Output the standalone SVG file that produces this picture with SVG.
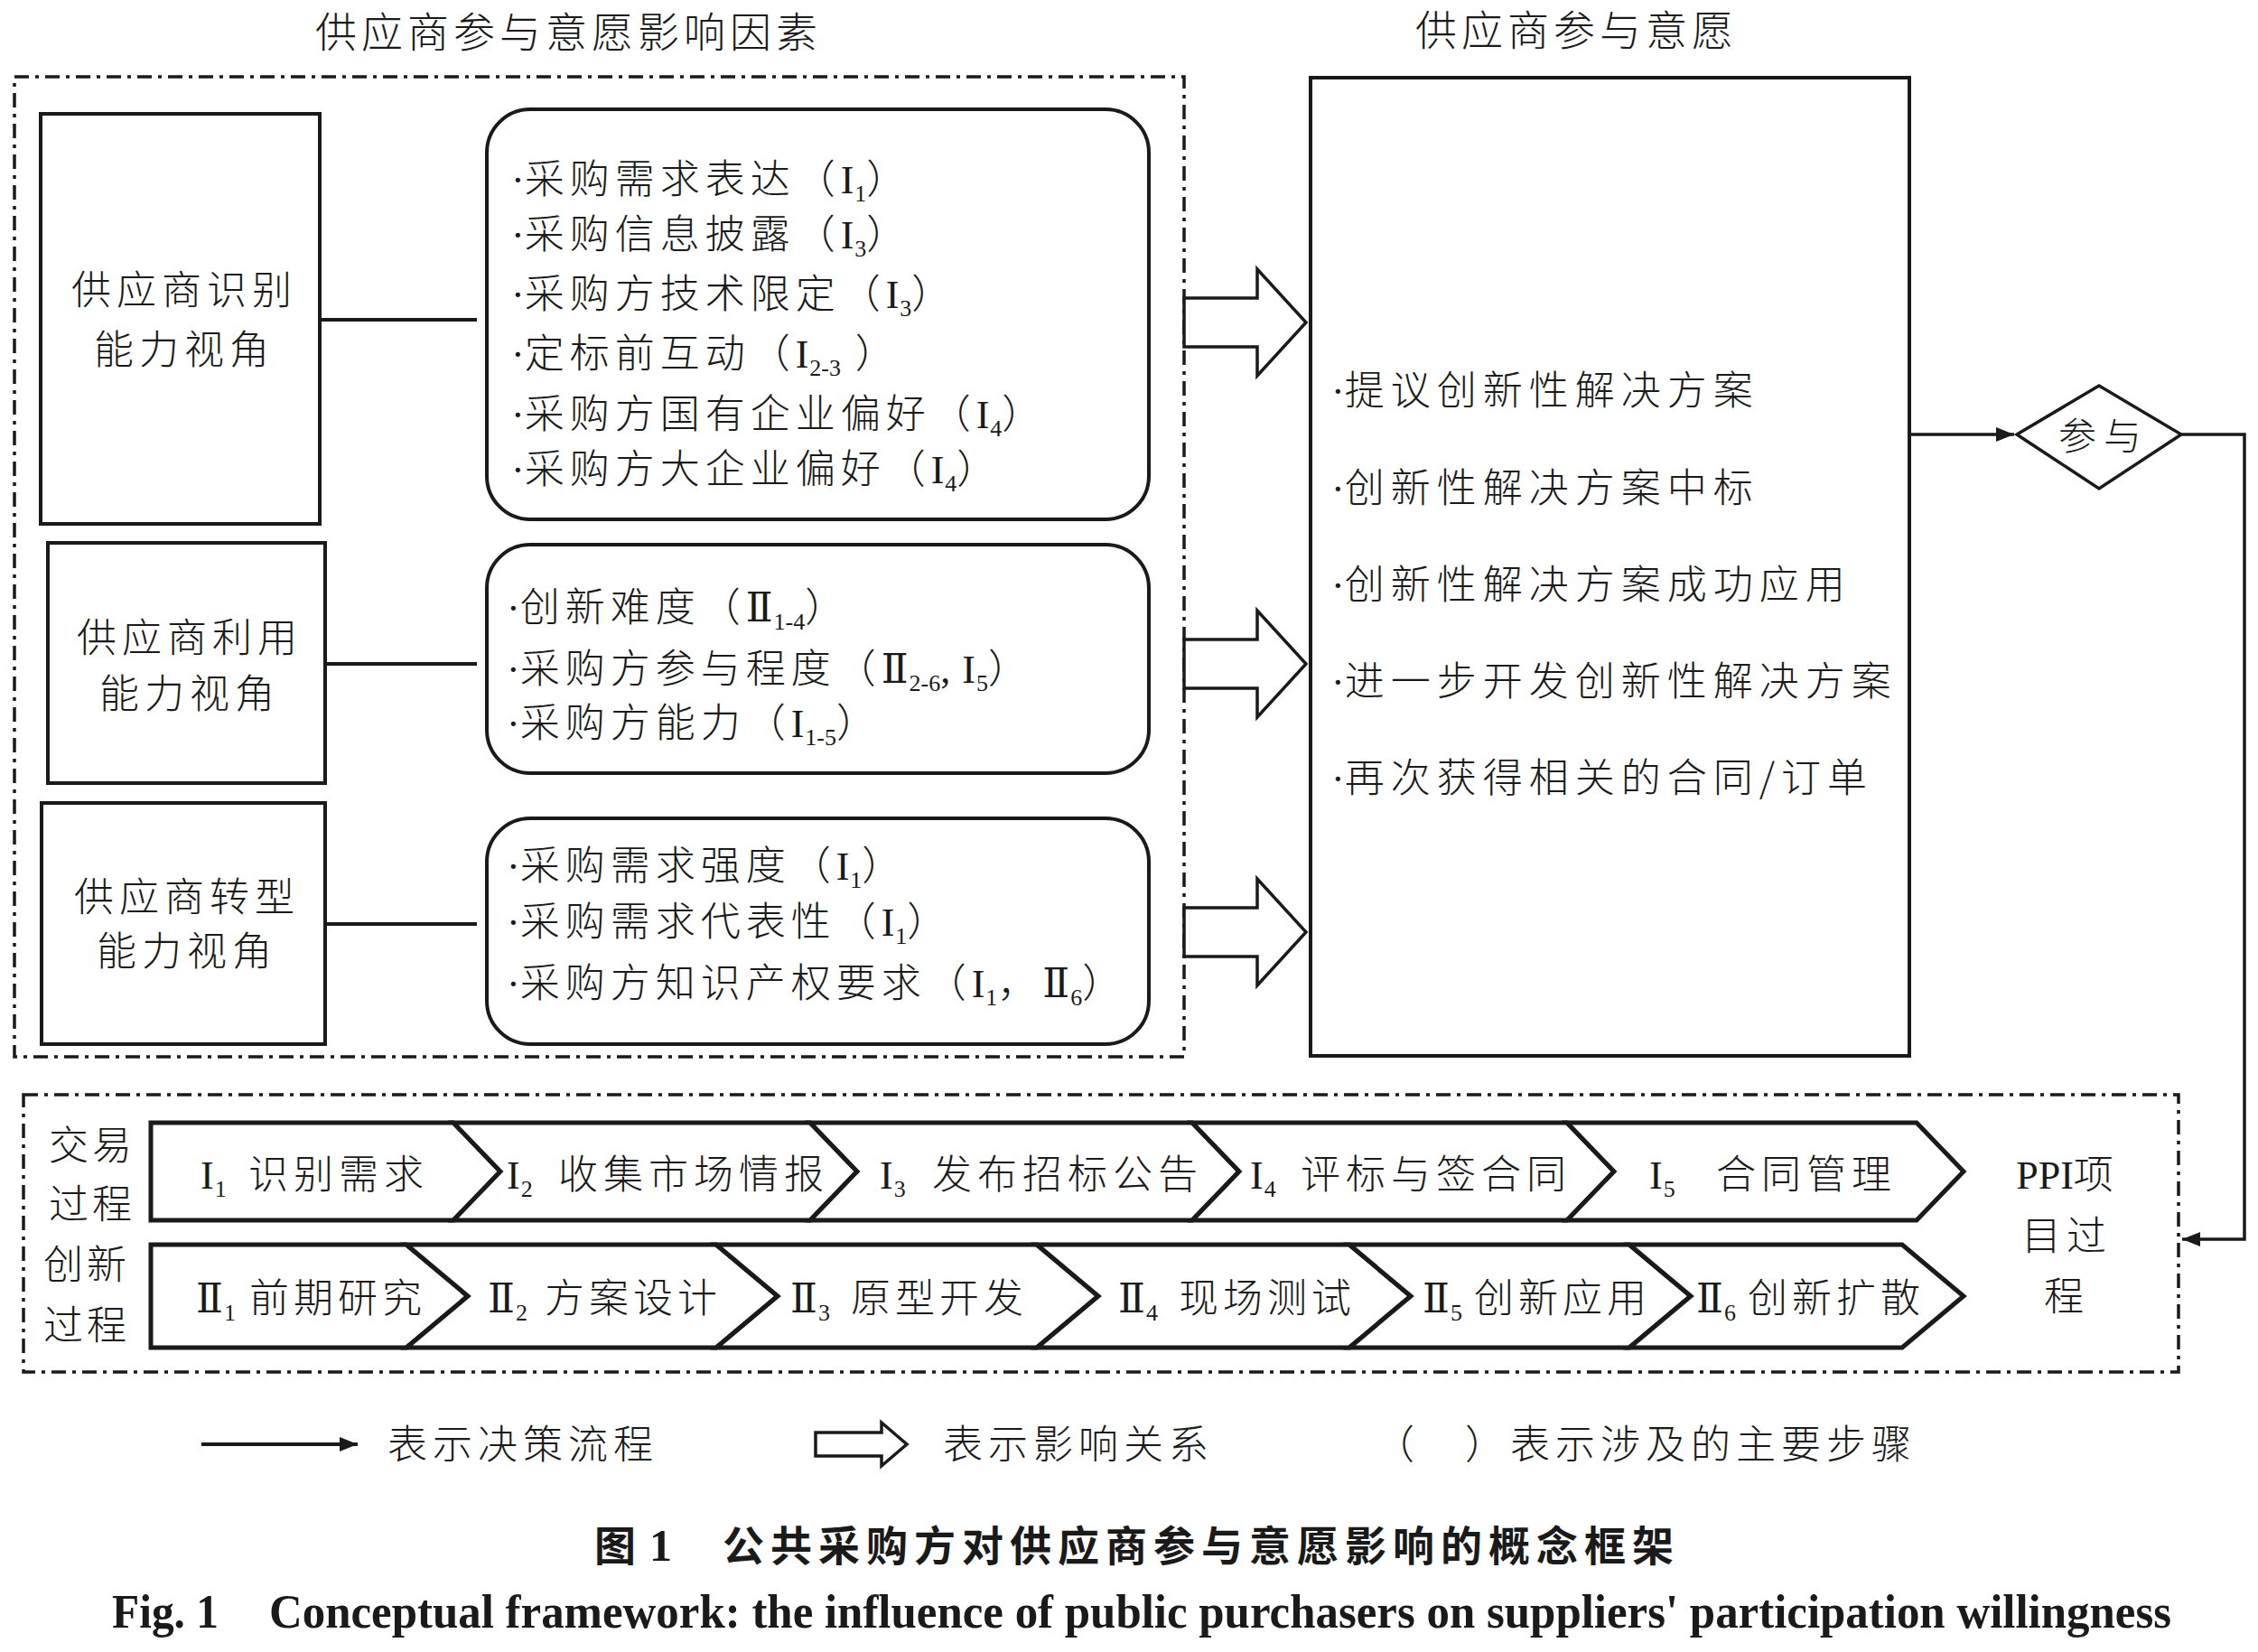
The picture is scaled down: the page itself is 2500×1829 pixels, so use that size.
<svg xmlns="http://www.w3.org/2000/svg" width="2500" height="1829" viewBox="0 0 2500 1829">
<defs>
<style>
.bg{fill:#fff}
.box{fill:#fff;stroke:#1a1a1a;stroke-width:4}
.rbox{fill:#fff;stroke:#1a1a1a;stroke-width:4}
.frame{fill:none;stroke:#1a1a1a;stroke-width:3.5;stroke-dasharray:16 7 4 7}
.hollow{fill:#fff;stroke:#1a1a1a;stroke-width:3.5;stroke-linejoin:miter}
.chev{fill:#fff;stroke:#1a1a1a;stroke-width:5;stroke-linejoin:miter}
.line{fill:none;stroke:#1a1a1a;stroke-width:4}
.t{font-family:"Noto Sans CJK SC",sans-serif;font-size:44px;letter-spacing:6px;fill:#1a1a1a;font-weight:300}
.w{letter-spacing:7px}
.r{font-family:"Liberation Serif","DejaVu Serif","Noto Sans CJK SC",serif;letter-spacing:1px}
.s{font-family:"Liberation Serif",serif;font-size:26px;letter-spacing:0px}
.d{font-family:"Liberation Serif",serif;letter-spacing:0px}
.cap{font-family:"Noto Sans CJK SC",sans-serif;font-size:46px;font-weight:700;letter-spacing:7px;fill:#1a1a1a}
.en{font-family:"Liberation Serif",serif;font-size:52px;font-weight:700;fill:#1a1a1a}
</style>
<marker id="ah" viewBox="0 0 20 16" refX="20" refY="8" markerWidth="20" markerHeight="16" markerUnits="userSpaceOnUse" orient="auto">
<path d="M0,0 L20,8 L0,16 Z" fill="#1a1a1a"/>
</marker>
</defs>
<rect class="bg" x="0" y="0" width="2500" height="1829"/>

<!-- titles -->
<text id="title-left" class="t" x="349" y="52" style="letter-spacing:5px;font-size:46px">供应商参与意愿影响因素</text>
<text id="title-right" class="t" x="1567" y="50" style="letter-spacing:5px;font-size:46px">供应商参与意愿</text>

<!-- frames -->
<g id="frames">
<rect class="frame" x="16" y="85" width="1295" height="1085"/>
<rect class="frame" x="26" y="1212" width="2386" height="307"/>
</g>

<!-- perspective boxes -->
<g id="node-identify">
<rect class="box" x="45" y="126" width="309" height="454"/>
<text class="t" x="204" y="337" text-anchor="middle">供应商识别</text>
<text class="t" x="204" y="403" text-anchor="middle">能力视角</text>
</g>
<g id="node-use">
<rect class="box" x="53" y="601" width="307" height="266"/>
<text class="t" x="210" y="722" text-anchor="middle">供应商利用</text>
<text class="t" x="210" y="784" text-anchor="middle">能力视角</text>
</g>
<g id="node-transform">
<rect class="box" x="46" y="889" width="314" height="267"/>
<text class="t" x="207" y="1009" text-anchor="middle">供应商转型</text>
<text class="t" x="207" y="1069" text-anchor="middle">能力视角</text>
</g>

<!-- factor boxes -->
<g id="node-factors1">
<rect class="rbox" x="539" y="121" width="733" height="454" rx="48" ry="48"/>
<text class="t" x="566" y="214"><tspan class="d">·</tspan>采购需求表达（<tspan class="r">I</tspan><tspan class="s" dy="9">1</tspan><tspan dy="-9">）</tspan></text>
<text class="t" x="566" y="275"><tspan class="d">·</tspan>采购信息披露（<tspan class="r">I</tspan><tspan class="s" dy="9">3</tspan><tspan dy="-9">）</tspan></text>
<text class="t" x="566" y="341"><tspan class="d">·</tspan>采购方技术限定（<tspan class="r">I</tspan><tspan class="s" dy="9">3</tspan><tspan dy="-9">）</tspan></text>
<text class="t" x="566" y="407"><tspan class="d">·</tspan>定标前互动（<tspan class="r">I</tspan><tspan class="s" dy="9">2-3</tspan><tspan dy="-9"> ）</tspan></text>
<text class="t" x="566" y="474"><tspan class="d">·</tspan>采购方国有企业偏好（<tspan class="r">I</tspan><tspan class="s" dy="9">4</tspan><tspan dy="-9">）</tspan></text>
<text class="t" x="566" y="535"><tspan class="d">·</tspan>采购方大企业偏好（<tspan class="r">I</tspan><tspan class="s" dy="9">4</tspan><tspan dy="-9">）</tspan></text>
</g>
<g id="node-factors2">
<rect class="rbox" x="539" y="603" width="733" height="253" rx="48" ry="48"/>
<text class="t" x="561" y="688"><tspan class="d">·</tspan>创新难度（<tspan class="r">Ⅱ</tspan><tspan class="s" dy="9">1-4</tspan><tspan dy="-9">）</tspan></text>
<text class="t" x="561" y="756"><tspan class="d">·</tspan>采购方参与程度（<tspan class="r">Ⅱ</tspan><tspan class="s" dy="9">2-6</tspan><tspan class="r" dy="-9">, I</tspan><tspan class="s" dy="9">5</tspan><tspan dy="-9">）</tspan></text>
<text class="t" x="561" y="816"><tspan class="d">·</tspan>采购方能力（<tspan class="r">I</tspan><tspan class="s" dy="9">1-5</tspan><tspan dy="-9">）</tspan></text>
</g>
<g id="node-factors3">
<rect class="rbox" x="539" y="906" width="733" height="250" rx="48" ry="48"/>
<text class="t" x="561" y="974"><tspan class="d">·</tspan>采购需求强度（<tspan class="r">I</tspan><tspan class="s" dy="9">1</tspan><tspan dy="-9">）</tspan></text>
<text class="t" x="561" y="1036"><tspan class="d">·</tspan>采购需求代表性（<tspan class="r">I</tspan><tspan class="s" dy="9">1</tspan><tspan dy="-9">）</tspan></text>
<text class="t" x="561" y="1104"><tspan class="d">·</tspan>采购方知识产权要求（<tspan class="r">I</tspan><tspan class="s" dy="9">1</tspan><tspan dy="-9">，</tspan><tspan class="r">Ⅱ</tspan><tspan class="s" dy="9">6</tspan><tspan dy="-9">）</tspan></text>
</g>

<!-- willingness box -->
<g id="node-willingness">
<rect class="box" x="1451" y="86" width="663" height="1083"/>
<text class="t w" x="1474" y="448"><tspan class="d">·</tspan>提议创新性解决方案</text>
<text class="t w" x="1474" y="556"><tspan class="d">·</tspan>创新性解决方案中标</text>
<text class="t w" x="1474" y="663"><tspan class="d">·</tspan>创新性解决方案成功应用</text>
<text class="t w" x="1474" y="770"><tspan class="d">·</tspan>进一步开发创新性解决方案</text>
<text class="t w" x="1474" y="877"><tspan class="d">·</tspan>再次获得相关的合同/订单</text>
</g>

<!-- decision diamond -->
<g id="node-participate">
<polygon class="box" points="2233,481 2324,427 2415,481 2324,541" style="stroke-width:3.5"/>
<text class="t" x="2329" y="498" text-anchor="middle" style="letter-spacing:8px;font-size:42px">参与</text>
</g>

<!-- process chevrons -->
<g id="node-transaction">
<text class="t" x="54" y="1284" style="letter-spacing:4px">交易</text>
<text class="t" x="54" y="1349" style="letter-spacing:4px">过程</text>
<polygon class="chev" points="167,1243 502,1243 554,1297 502,1351 167,1351"/>
<polygon class="chev" points="502,1243 897,1243 949,1297 897,1351 502,1351 554,1297"/>
<polygon class="chev" points="897,1243 1320,1243 1372,1297 1320,1351 897,1351 949,1297"/>
<polygon class="chev" points="1320,1243 1735,1243 1787,1297 1735,1351 1320,1351 1372,1297"/>
<polygon class="chev" points="1735,1243 2122,1243 2174,1297 2122,1351 1735,1351 1787,1297"/>
<text class="t" y="1316"><tspan class="r" x="222">I</tspan><tspan class="s" dy="9">1</tspan><tspan x="275" dy="-9">识别需求</tspan></text>
<text class="t" y="1316"><tspan class="r" x="561">I</tspan><tspan class="s" dy="9">2</tspan><tspan x="618" dy="-9">收集市场情报</tspan></text>
<text class="t" y="1316"><tspan class="r" x="974">I</tspan><tspan class="s" dy="9">3</tspan><tspan x="1032" dy="-9">发布招标公告</tspan></text>
<text class="t" y="1316"><tspan class="r" x="1384">I</tspan><tspan class="s" dy="9">4</tspan><tspan x="1440" dy="-9">评标与签合同</tspan></text>
<text class="t" y="1316"><tspan class="r" x="1826">I</tspan><tspan class="s" dy="9">5</tspan><tspan x="1900" dy="-9">合同管理</tspan></text>
</g>
<g id="node-innovation">
<text class="t" x="48" y="1416" style="letter-spacing:4px">创新</text>
<text class="t" x="48" y="1483" style="letter-spacing:4px">过程</text>
<polygon class="chev" points="167,1378 450,1378 518,1435 450,1492 167,1492"/>
<polygon class="chev" points="450,1378 793,1378 861,1435 793,1492 450,1492 518,1435"/>
<polygon class="chev" points="793,1378 1148,1378 1216,1435 1148,1492 793,1492 861,1435"/>
<polygon class="chev" points="1148,1378 1494,1378 1562,1435 1494,1492 1148,1492 1216,1435"/>
<polygon class="chev" points="1494,1378 1804,1378 1872,1435 1804,1492 1494,1492 1562,1435"/>
<polygon class="chev" points="1804,1378 2106,1378 2174,1435 2106,1492 1804,1492 1872,1435"/>
<text class="t" y="1453"><tspan class="r" x="217">Ⅱ</tspan><tspan class="s" dy="9">1</tspan><tspan x="276" dy="-9" style="letter-spacing:5px">前期研究</tspan></text>
<text class="t" y="1453"><tspan class="r" x="540">Ⅱ</tspan><tspan class="s" dy="9">2</tspan><tspan x="603" dy="-9" style="letter-spacing:5px">方案设计</tspan></text>
<text class="t" y="1453"><tspan class="r" x="875">Ⅱ</tspan><tspan class="s" dy="9">3</tspan><tspan x="942" dy="-9" style="letter-spacing:5px">原型开发</tspan></text>
<text class="t" y="1453"><tspan class="r" x="1238">Ⅱ</tspan><tspan class="s" dy="9">4</tspan><tspan x="1305" dy="-9" style="letter-spacing:5px">现场测试</tspan></text>
<text class="t" y="1453"><tspan class="r" x="1575">Ⅱ</tspan><tspan class="s" dy="9">5</tspan><tspan x="1632" dy="-9" style="letter-spacing:5px">创新应用</tspan></text>
<text class="t" y="1453"><tspan class="r" x="1878">Ⅱ</tspan><tspan class="s" dy="9">6</tspan><tspan x="1935" dy="-9" style="letter-spacing:5px">创新扩散</tspan></text>
</g>
<g id="node-ppi">
<text class="t" x="2286" y="1316" text-anchor="middle" style="letter-spacing:0px"><tspan class="r" style="letter-spacing:0px">PPI</tspan>项</text>
<text class="t" x="2288" y="1384" text-anchor="middle">目过</text>
<text class="t" x="2288" y="1451" text-anchor="middle">程</text>
</g>

<!-- connectors -->
<g id="connectors">
<line class="line" x1="354" y1="354" x2="528" y2="354"/>
<line class="line" x1="360" y1="735" x2="528" y2="735"/>
<line class="line" x1="360" y1="1023" x2="528" y2="1023"/>
<polygon class="hollow" points="1311,330 1392,330 1392,298 1446,357 1392,416 1392,384 1311,384"/>
<polygon class="hollow" points="1311,708 1392,708 1392,676 1446,735 1392,794 1392,762 1311,762"/>
<polygon class="hollow" points="1311,1005 1392,1005 1392,973 1446,1032 1392,1091 1392,1059 1311,1059"/>
<line class="line" x1="2114" y1="481" x2="2230" y2="481" style="stroke-width:3.5" marker-end="url(#ah)"/>
<polyline class="line" points="2415,481 2485,481 2485,1372 2416,1372" style="stroke-width:3.5" marker-end="url(#ah)"/>
</g>

<!-- legend -->
<g id="legend">
<line class="line" x1="223" y1="1599" x2="396" y2="1599" style="stroke-width:4" marker-end="url(#ah)"/>
<text class="t" x="429" y="1615">表示决策流程</text>
<polygon class="hollow" points="903,1586 976,1586 976,1575 1004,1599 976,1623 976,1612 903,1612"/>
<text class="t" x="1044" y="1615">表示影响关系</text>
<text class="t" x="1522" y="1615" style="letter-spacing:6px">（　）表示涉及的主要步骤</text>
</g>

<!-- caption -->
<g id="caption">
<text class="cap" y="1728"><tspan x="658">图</tspan><tspan x="719" style="font-family:'Liberation Serif',serif;font-size:50px">1</tspan><tspan x="800">公共采购方对供应商参与意愿影响的概念框架</tspan></text>
<text class="en" x="124" y="1802" textLength="118" lengthAdjust="spacingAndGlyphs">Fig. 1</text>
<text class="en" x="298" y="1802" textLength="2106" lengthAdjust="spacingAndGlyphs">Conceptual framework: the influence of public purchasers on suppliers' participation willingness</text>
</g>
</svg>
